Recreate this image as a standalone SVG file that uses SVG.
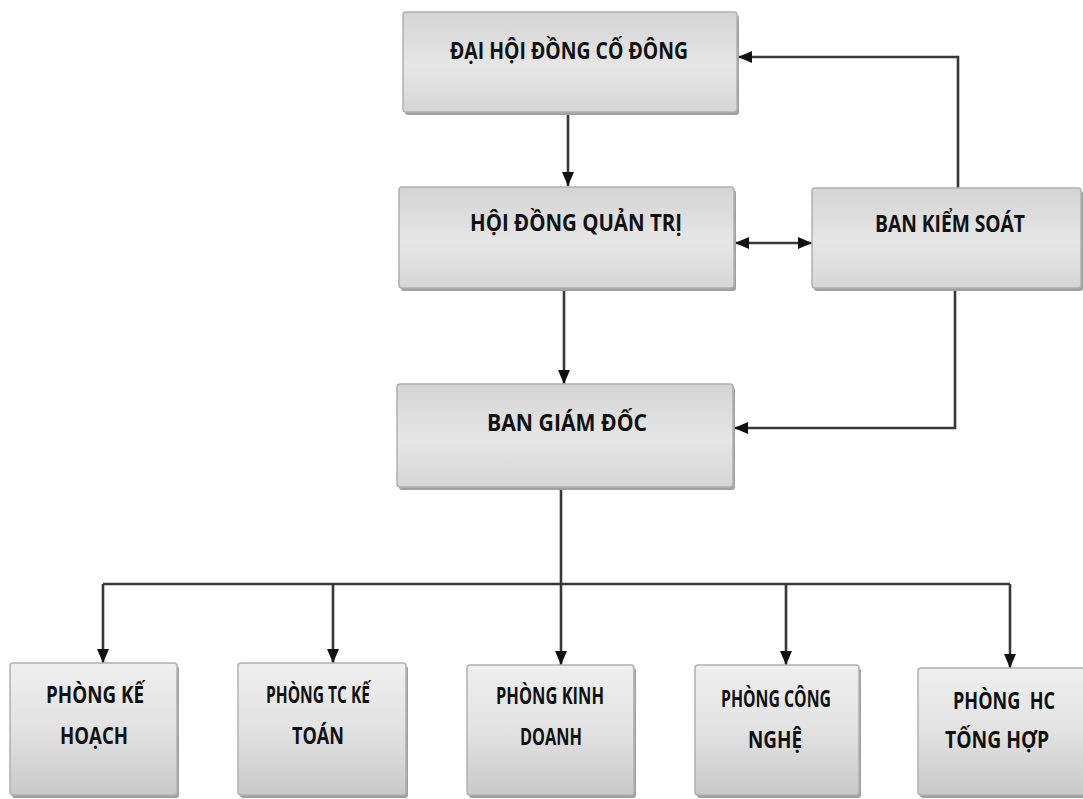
<svg xmlns="http://www.w3.org/2000/svg" width="1083" height="799" viewBox="0 0 1083 799">
<defs>
<linearGradient id="gTop" x1="0" y1="0" x2="0" y2="1">
<stop offset="0" stop-color="#d4d4d4"/>
<stop offset="0.55" stop-color="#e6e6e6"/>
<stop offset="1" stop-color="#d6d6d6"/>
</linearGradient>
<linearGradient id="gBot" x1="0" y1="0" x2="0" y2="1">
<stop offset="0" stop-color="#efefef"/>
<stop offset="0.5" stop-color="#e2e2e2"/>
<stop offset="1" stop-color="#c9c9c9"/>
</linearGradient>
<marker id="arr" viewBox="0 0 14 12" refX="14" refY="6" markerWidth="14" markerHeight="12" markerUnits="userSpaceOnUse" orient="auto-start-reverse">
<path d="M0,0 L14,6 L0,12 z" fill="#111"/>
</marker>
<style>
.sh{fill:#a0a0a0}
.bx{fill:url(#gTop);stroke:#b0b0b0;stroke-width:1.5}
.bb{fill:url(#gBot);stroke:#b0b0b0;stroke-width:1.5}
.t{font-family:"Open Sans","Liberation Sans",sans-serif;font-weight:700;fill:#111;text-anchor:middle}
.tm{font-size:24px}
.ts{font-size:23px}
.c{fill:none;stroke:#383838;stroke-width:2.6}
</style>
</defs>
<rect width="1083" height="799" fill="#ffffff"/>
<g id="connectors">
<path class="c" d="M568,112 V186" marker-end="url(#arr)"/>
<path class="c" d="M564,288 V384" marker-end="url(#arr)"/>
<path class="c" d="M958,188 V57 H738" marker-end="url(#arr)"/>
<path class="c" d="M955,288 V428 H734" marker-end="url(#arr)"/>
<path class="c" d="M735,243 H812" marker-start="url(#arr)" marker-end="url(#arr)"/>
<path class="c" d="M561,487 V665" marker-end="url(#arr)"/>
<path class="c" d="M103,584 H1010"/>
<path class="c" d="M103,584 V663" marker-end="url(#arr)"/>
<path class="c" d="M333,584 V663" marker-end="url(#arr)"/>
<path class="c" d="M786,584 V665" marker-end="url(#arr)"/>
<path class="c" d="M1010,584 V668" marker-end="url(#arr)"/>
</g>
<g id="dhdcd">
<rect class="sh" x="405" y="15" width="334" height="100" rx="3"/>
<rect class="bx" x="403" y="12" width="334" height="100" rx="3"/>
<text class="t tm" x="569" y="59" textLength="238" lengthAdjust="spacingAndGlyphs">ĐẠI HỘI ĐỒNG CỐ ĐÔNG</text>
</g>
<g id="hdqt">
<rect class="sh" x="401" y="190" width="335" height="101" rx="3"/>
<rect class="bx" x="399" y="187" width="335" height="101" rx="3"/>
<text class="t tm" x="576" y="231" textLength="212" lengthAdjust="spacingAndGlyphs">HỘI ĐỒNG QUẢN TRỊ</text>
</g>
<g id="bks">
<rect class="sh" x="814" y="191" width="269" height="100" rx="3"/>
<rect class="bx" x="812" y="188" width="269" height="100" rx="3"/>
<text class="t tm" x="950" y="232" textLength="150" lengthAdjust="spacingAndGlyphs">BAN KIỂM SOÁT</text>
</g>
<g id="bgd">
<rect class="sh" x="399" y="387" width="336" height="103" rx="3"/>
<rect class="bx" x="397" y="384" width="336" height="103" rx="3"/>
<text class="t tm" x="567" y="431" textLength="160" lengthAdjust="spacingAndGlyphs">BAN GIÁM ĐỐC</text>
</g>
<g id="pkh">
<rect class="sh" x="12" y="666" width="167" height="132" rx="3"/>
<rect class="bb" x="10" y="663" width="167" height="132" rx="3"/>
<text class="t ts" x="95" y="703" textLength="98" lengthAdjust="spacingAndGlyphs">PHÒNG KẾ</text>
<text class="t ts" x="94" y="744" textLength="68" lengthAdjust="spacingAndGlyphs">HOẠCH</text>
</g>
<g id="ptckt">
<rect class="sh" x="240" y="666" width="168" height="132" rx="3"/>
<rect class="bb" x="238" y="663" width="168" height="132" rx="3"/>
<text class="t ts" x="318" y="703" textLength="104" lengthAdjust="spacingAndGlyphs">PHÒNG TC KẾ</text>
<text class="t ts" x="318" y="744" textLength="52" lengthAdjust="spacingAndGlyphs">TOÁN</text>
</g>
<g id="pkd">
<rect class="sh" x="469" y="668" width="167" height="130" rx="3"/>
<rect class="bb" x="467" y="665" width="167" height="130" rx="3"/>
<text class="t ts" x="550" y="704" textLength="108" lengthAdjust="spacingAndGlyphs">PHÒNG KINH</text>
<text class="t ts" x="551" y="745" textLength="62" lengthAdjust="spacingAndGlyphs">DOANH</text>
</g>
<g id="pcn">
<rect class="sh" x="697" y="668" width="164" height="130" rx="3"/>
<rect class="bb" x="695" y="665" width="164" height="130" rx="3"/>
<text class="t ts" x="776" y="707" textLength="110" lengthAdjust="spacingAndGlyphs">PHÒNG CÔNG</text>
<text class="t ts" x="775" y="748" textLength="54" lengthAdjust="spacingAndGlyphs">NGHỆ</text>
</g>
<g id="phc">
<rect class="sh" x="920" y="671" width="170" height="127" rx="3"/>
<rect class="bb" x="918" y="668" width="170" height="127" rx="3"/>
<text class="t ts" x="1004" y="709" textLength="102" lengthAdjust="spacingAndGlyphs" xml:space="preserve">PHÒNG  HC</text>
<text class="t ts" x="997" y="748" textLength="104" lengthAdjust="spacingAndGlyphs">TỐNG HỢP</text>
</g>
</svg>
